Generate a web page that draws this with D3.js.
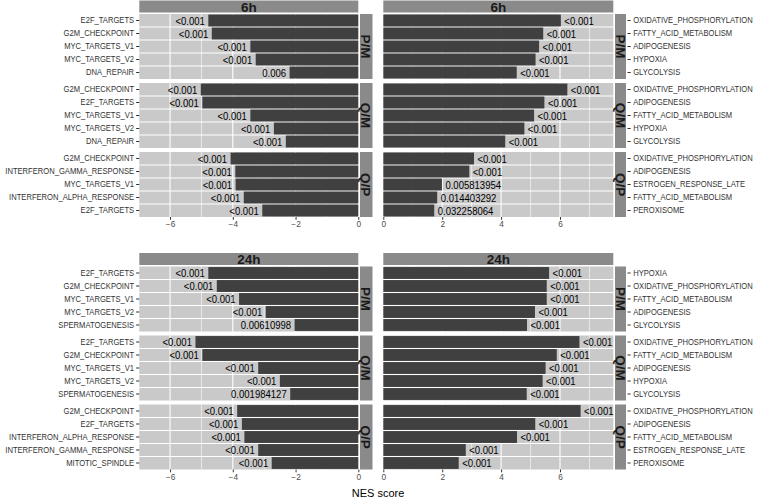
<!DOCTYPE html>
<html><head><meta charset="utf-8">
<script src="https://cdn.jsdelivr.net/npm/d3@7"></script>
<style>body{margin:0;background:#fff}svg{display:block}text{font-family:"Liberation Sans",Arial,sans-serif}</style>
</head><body><svg id="c" width="757" height="499"></svg>
<script>
// ---------- data ----------
const times = ["6h", "24h"];
const comparisons = ["P/M", "Q/M", "Q/P"];

// negative NES (left side), per time -> per comparison
const negTerms6h = [
  ["E2F_TARGETS","G2M_CHECKPOINT","MYC_TARGETS_V1","MYC_TARGETS_V2","DNA_REPAIR"],
  ["G2M_CHECKPOINT","E2F_TARGETS","MYC_TARGETS_V1","MYC_TARGETS_V2","DNA_REPAIR"],
  ["G2M_CHECKPOINT","INTERFERON_GAMMA_RESPONSE","MYC_TARGETS_V1","INTERFERON_ALPHA_RESPONSE","E2F_TARGETS"]
];
const negNES6h = [
  [-4.78,-4.67,-3.44,-3.27,-2.19],
  [-5.02,-4.97,-3.44,-2.69,-2.31],
  [-4.07,-3.92,-3.91,-3.65,-3.06]
];
const negP6h = [
  ["<0.001","<0.001","<0.001","<0.001","0.006"],
  ["<0.001","<0.001","<0.001","<0.001","<0.001"],
  ["<0.001","<0.001","<0.001","<0.001","<0.001"]
];
const negTerms24h = [
  ["E2F_TARGETS","G2M_CHECKPOINT","MYC_TARGETS_V1","MYC_TARGETS_V2","SPERMATOGENESIS"],
  ["E2F_TARGETS","G2M_CHECKPOINT","MYC_TARGETS_V1","MYC_TARGETS_V2","SPERMATOGENESIS"],
  ["G2M_CHECKPOINT","E2F_TARGETS","INTERFERON_ALPHA_RESPONSE","INTERFERON_GAMMA_RESPONSE","MITOTIC_SPINDLE"]
];
const negNES24h = [
  [-4.78,-4.51,-3.80,-2.95,-2.03],
  [-5.19,-4.97,-3.19,-2.50,-2.17],
  [-3.86,-3.71,-3.63,-3.19,-2.76]
];
const negP24h = [
  ["<0.001","<0.001","<0.001","<0.001","0.00610998"],
  ["<0.001","<0.001","<0.001","<0.001","0.001984127"],
  ["<0.001","<0.001","<0.001","<0.001","<0.001"]
];

// positive NES (right side)
const posTerms6h = [
  ["OXIDATIVE_PHOSPHORYLATION","FATTY_ACID_METABOLISM","ADIPOGENESIS","HYPOXIA","GLYCOLYSIS"],
  ["OXIDATIVE_PHOSPHORYLATION","ADIPOGENESIS","FATTY_ACID_METABOLISM","HYPOXIA","GLYCOLYSIS"],
  ["OXIDATIVE_PHOSPHORYLATION","ADIPOGENESIS","ESTROGEN_RESPONSE_LATE","FATTY_ACID_METABOLISM","PEROXISOME"]
];
const posNES6h = [
  [6.03,5.43,5.29,5.17,4.53],
  [6.25,5.47,5.12,4.79,4.14],
  [3.08,2.92,1.99,1.83,1.73]
];
const posP6h = [
  ["<0.001","<0.001","<0.001","<0.001","<0.001"],
  ["<0.001","<0.001","<0.001","<0.001","<0.001"],
  ["<0.001","<0.001","0.005813954","0.014403292","0.032258064"]
];
const posTerms24h = [
  ["HYPOXIA","OXIDATIVE_PHOSPHORYLATION","FATTY_ACID_METABOLISM","ADIPOGENESIS","GLYCOLYSIS"],
  ["OXIDATIVE_PHOSPHORYLATION","FATTY_ACID_METABOLISM","ADIPOGENESIS","HYPOXIA","GLYCOLYSIS"],
  ["OXIDATIVE_PHOSPHORYLATION","ADIPOGENESIS","FATTY_ACID_METABOLISM","ESTROGEN_RESPONSE_LATE","PEROXISOME"]
];
const posNES24h = [
  [5.63,5.55,5.55,5.15,4.88],
  [6.66,5.89,5.51,5.41,4.87],
  [6.70,5.16,4.54,2.80,2.56]
];
const posP24h = [
  ["<0.001","<0.001","<0.001","<0.001","<0.001"],
  ["<0.001","<0.001","<0.001","<0.001","<0.001"],
  ["<0.001","<0.001","<0.001","<0.001","<0.001"]
];

const negTicks = [-6, -4, -2, 0];
const posTicks = [0, 2, 4, 6];
const negMinor = [-5, -3, -1];
const posMinor = [1, 3, 5, 7];
const xTitle = "NES score";

// ---------- layout ----------
const svg = d3.select("#c");
const C = {panel: "#c9c9c9", strip: "#8a8a8a", bar: "#404040", grid: "#ffffff"};
const blockTops = [0.5, 253];
const stripH = 12, panelTop = 13.5, panelH = 65, panelGap = 4;

// horizontally condense text while keeping its anchor point in place
function squeeze(sel, f) {
  sel.each(function () {
    const s = d3.select(this);
    const x = +s.attr("x") || 0;
    s.attr("x", x / f).attr("transform", `scale(${f},1)`);
  });
}

const sides = [
  {name: "neg", x0: 139.3, x1: 358.3, domain: [-6.98, 0], s0: 360, s1: 372.5,
   ticks: negTicks, minor: negMinor,
   terms: [negTerms6h, negTerms24h], nes: [negNES6h, negNES24h], p: [negP6h, negP24h]},
  {name: "pos", x0: 383.3, x1: 613.3, domain: [0, 7.81], s0: 615, s1: 626,
   ticks: posTicks, minor: posMinor,
   terms: [posTerms6h, posTerms24h], nes: [posNES6h, posNES24h], p: [posP6h, posP24h]}
];

times.forEach((t, ti) => {
  const top = blockTops[ti];
  sides.forEach(sd => {
    const x = d3.scaleLinear().domain(sd.domain).range([sd.x0, sd.x1]);
    // top strip
    svg.append("rect").attr("x", sd.x0).attr("y", top).attr("width", sd.x1 - sd.x0)
      .attr("height", stripH).attr("fill", C.strip);
    svg.append("text").attr("x", (sd.x0 + sd.x1) / 2).attr("y", top + stripH / 2 + 0.3)
      .attr("dy", "0.36em").attr("text-anchor", "middle").attr("font-weight", "bold")
      .attr("font-size", 13.5).attr("fill", "#1a1a1a").text(t);

    comparisons.forEach((cmp, ci) => {
      const py = top + panelTop + ci * (panelH + panelGap);
      const terms = sd.terms[ti][ci], vals = sd.nes[ti][ci], ps = sd.p[ti][ci];
      const y = d3.scaleBand().domain(d3.range(terms.length)).range([py, py + panelH]).padding(0);
      const g = svg.append("g");
      g.append("rect").attr("x", sd.x0).attr("y", py).attr("width", sd.x1 - sd.x0)
        .attr("height", panelH).attr("fill", C.panel);
      // vertical grid
      g.selectAll(".mn").data(sd.minor).join("line")
        .attr("x1", d => x(d)).attr("x2", d => x(d)).attr("y1", py).attr("y2", py + panelH)
        .attr("stroke", C.grid).attr("stroke-width", 0.6);
      g.selectAll(".mj").data(sd.ticks).join("line")
        .attr("x1", d => x(d)).attr("x2", d => x(d)).attr("y1", py).attr("y2", py + panelH)
        .attr("stroke", C.grid).attr("stroke-width", 1.1);
      // horizontal separators
      g.selectAll(".hs").data(d3.range(1, terms.length)).join("line")
        .attr("x1", sd.x0).attr("x2", sd.x1)
        .attr("y1", d => py + d * y.bandwidth()).attr("y2", d => py + d * y.bandwidth())
        .attr("stroke", C.grid).attr("stroke-width", 1.1);
      // bars
      g.selectAll(".bar").data(vals).join("rect")
        .attr("x", d => x(Math.min(0, d))).attr("width", d => Math.abs(x(d) - x(0)))
        .attr("y", (d, i) => y(i) + 0.55).attr("height", y.bandwidth() - 1.1)
        .attr("fill", C.bar);
      // p labels
      const pl = g.selectAll(".pl").data(vals).join("text")
        .attr("x", d => d < 0 ? x(d) - 3.5 : x(d) + 3.5)
        .attr("y", (d, i) => y(i) + y.bandwidth() / 2 + 0.3).attr("dy", "0.36em")
        .attr("text-anchor", d => d < 0 ? "end" : "start")
        .attr("font-size", 10.6).attr("fill", "#000")
        .text((d, i) => ps[i]);
      squeeze(pl, 0.9);
      // side strip
      svg.append("rect").attr("x", sd.s0).attr("y", py).attr("width", sd.s1 - sd.s0)
        .attr("height", panelH).attr("fill", C.strip);
      svg.append("text").attr("transform", `translate(${(sd.s0 + sd.s1) / 2},${py + panelH / 2}) rotate(90)`)
        .attr("dy", "0.36em").attr("text-anchor", "middle").attr("font-weight", "bold")
        .attr("font-size", 13.5).attr("fill", "#1a1a1a").text(cmp);
      // y axis
      let ax;
      if (sd.name === "neg") {
        ax = svg.append("g").attr("transform", `translate(${sd.x0},0)`)
          .call(d3.axisLeft(y).tickFormat(i => terms[i]).tickSize(3.2).tickPadding(2));
      } else {
        ax = svg.append("g").attr("transform", `translate(${sd.s1 + 1.5},0)`)
          .call(d3.axisRight(y).tickFormat(i => terms[i]).tickSize(3.2).tickPadding(2.5));
      }
      ax.select(".domain").remove();
      ax.selectAll("line").attr("stroke", "#333");
      const tx = ax.selectAll("text").attr("font-size", 8.6).attr("fill", "#333")
        .style("font-family", "'Liberation Sans',Arial,sans-serif");
      squeeze(tx, 0.885);
    });
    // x axis
    const bottom = top + panelTop + 3 * panelH + 2 * panelGap;
    const xa = svg.append("g").attr("transform", `translate(0,${bottom})`)
      .call(d3.axisBottom(x).tickValues(sd.ticks).tickFormat(d3.format("d")).tickSize(2.8).tickPadding(1.5));
    xa.select(".domain").remove();
    xa.selectAll("line").attr("stroke", "#333");
    xa.selectAll("text").attr("font-size", 8.3).attr("fill", "#4d4d4d")
      .style("font-family", "'Liberation Sans',Arial,sans-serif");
  });
});

svg.append("text").attr("x", 378).attr("y", 493).attr("dy", "0.36em")
  .attr("text-anchor", "middle").attr("font-size", 11).attr("fill", "#000").text(xTitle);
</script></body></html>
